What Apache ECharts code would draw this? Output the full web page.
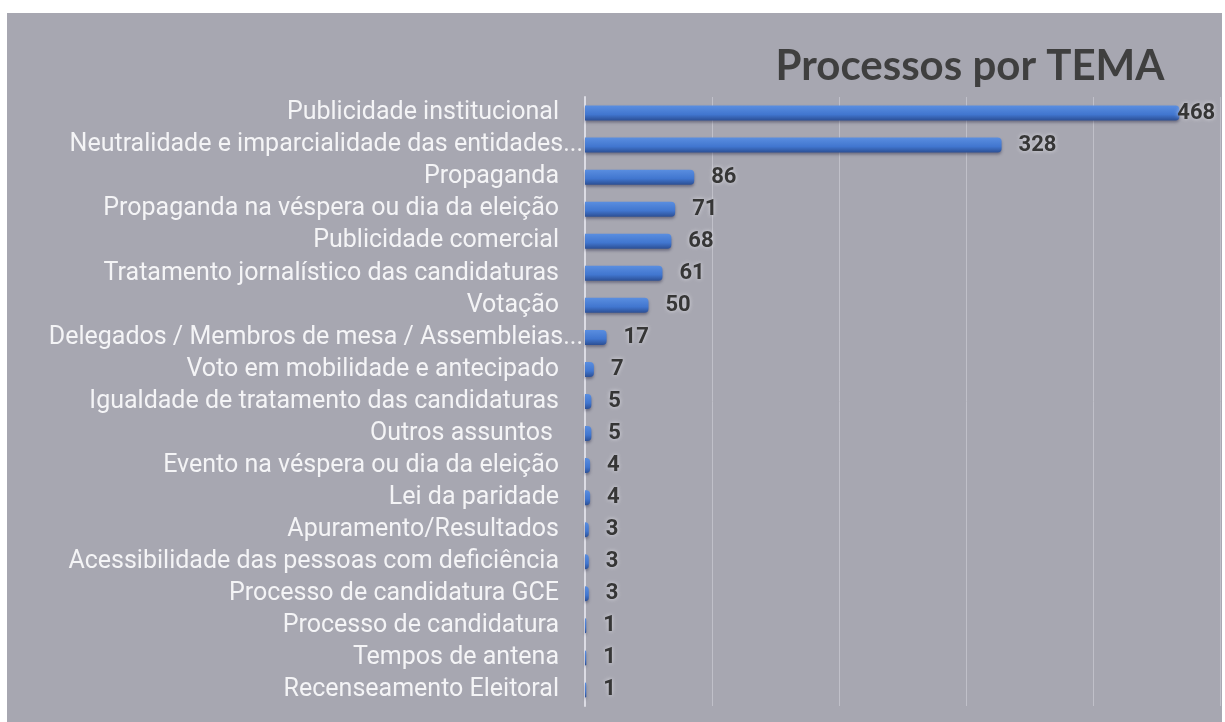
<!DOCTYPE html>
<html>
<head>
<meta charset="utf-8">
<script src="https://cdn.jsdelivr.net/npm/echarts@6/dist/echarts.min.js"></script>
<style>
html, body {
  margin: 0;
  padding: 0;
  width: 1225px;
  height: 722px;
  background: #fff;
  overflow: hidden;
}
#frame {
  position: absolute;
  left: 7px;
  top: 13px;
  width: 1215px;
  height: 709px;
  background: #a7a7b1;
}
#chart {
  width: 100%;
  height: 100%;
}
</style>
</head>
<body>
<div id="frame"><div id="chart"></div></div>
<script>
// categories, top to bottom
var temas = [
  'Publicidade institucional',
  'Neutralidade e imparcialidade das entidades...',
  'Propaganda',
  'Propaganda na véspera ou dia da eleição',
  'Publicidade comercial',
  'Tratamento jornalístico das candidaturas',
  'Votação',
  'Delegados / Membros de mesa / Assembleias...',
  'Voto em mobilidade e antecipado',
  'Igualdade de tratamento das candidaturas',
  'Outros assuntos ',
  'Evento na véspera ou dia da eleição',
  'Lei da paridade',
  'Apuramento/Resultados',
  'Acessibilidade das pessoas com deficiência',
  'Processo de candidatura GCE',
  'Processo de candidatura',
  'Tempos de antena',
  'Recenseamento Eleitoral'
]
var processos = [468, 328, 86, 71, 68, 61, 50, 17, 7, 5, 5, 4, 4, 3, 3, 3, 1, 1, 1]
var xTicks = [0, 100, 200, 300, 400, 500]

var myChart = echarts.init(document.getElementById('chart'))

// the longest bar's label is pulled back onto the bar end, like in the original
var maxVal = Math.max.apply(null, processos)
var barData = processos.map(function (v) {
  if (v === maxVal) {
    return {value: v, label: {distance: -2}}
  }
  return v
})

var option = {
  backgroundColor: 'transparent',
  animation: false,
  title: {
    text: 'Processos por TEMA',
    left: 958,
    top: 27,
    textAlign: 'center',
    textStyle: {
      fontFamily: 'Lato',
      fontWeight: 'bold',
      fontSize: 42,
      color: '#3f3f3f'
    }
  },
  grid: {
    left: 578,
    right: 2,
    top: 84,
    bottom: 16,
    containLabel: false
  },
  xAxis: {
    type: 'value',
    min: xTicks[0],
    max: xTicks[xTicks.length - 1],
    interval: 100,
    axisLine: {show: false},
    axisTick: {show: false},
    axisLabel: {show: false},
    splitLine: {
      show: true,
      lineStyle: {color: '#c0c0c9', width: 1}
    }
  },
  yAxis: {
    type: 'category',
    inverse: true,
    data: temas,
    axisTick: {show: false},
    axisLine: {
      show: true,
      lineStyle: {color: '#dcdce4', width: 2}
    },
    axisLabel: {
      margin: 2,
      formatter: function (v) {
        // truncated labels sit closer to the axis
        if (v.indexOf('...') > -1) {
          return '{e|' + v + '}'
        }
        return '{n|' + v + '}'
      },
      rich: {
        n: {
          fontFamily: 'Roboto',
          fontSize: 25,
          color: '#f4f4f6',
          padding: [0, 24, 0, 0]
        },
        e: {
          fontFamily: 'Roboto',
          fontSize: 25,
          color: '#f4f4f6',
          padding: [0, 0, 0, 0]
        }
      }
    }
  },
  series: [
    {
      type: 'bar',
      data: barData,
      barWidth: 15,
      itemStyle: {
        color: new echarts.graphic.LinearGradient(0, 0, 0, 1, [
          {offset: 0, color: '#5a8ee0'},
          {offset: 0.6, color: '#4176cf'},
          {offset: 1, color: '#2c4f94'}
        ]),
        borderRadius: [0, 4, 4, 0],
        shadowColor: 'rgba(40, 40, 70, 0.45)',
        shadowBlur: 3,
        shadowOffsetY: 2
      },
      label: {
        show: true,
        position: 'right',
        distance: 17,
        fontFamily: 'Roboto',
        fontWeight: 'bold',
        fontSize: 22,
        color: '#363636',
        textShadowColor: 'rgba(235, 235, 240, 0.8)',
        textShadowBlur: 4
      }
    }
  ]
}

myChart.setOption(option)
</script>
</body>
</html>
